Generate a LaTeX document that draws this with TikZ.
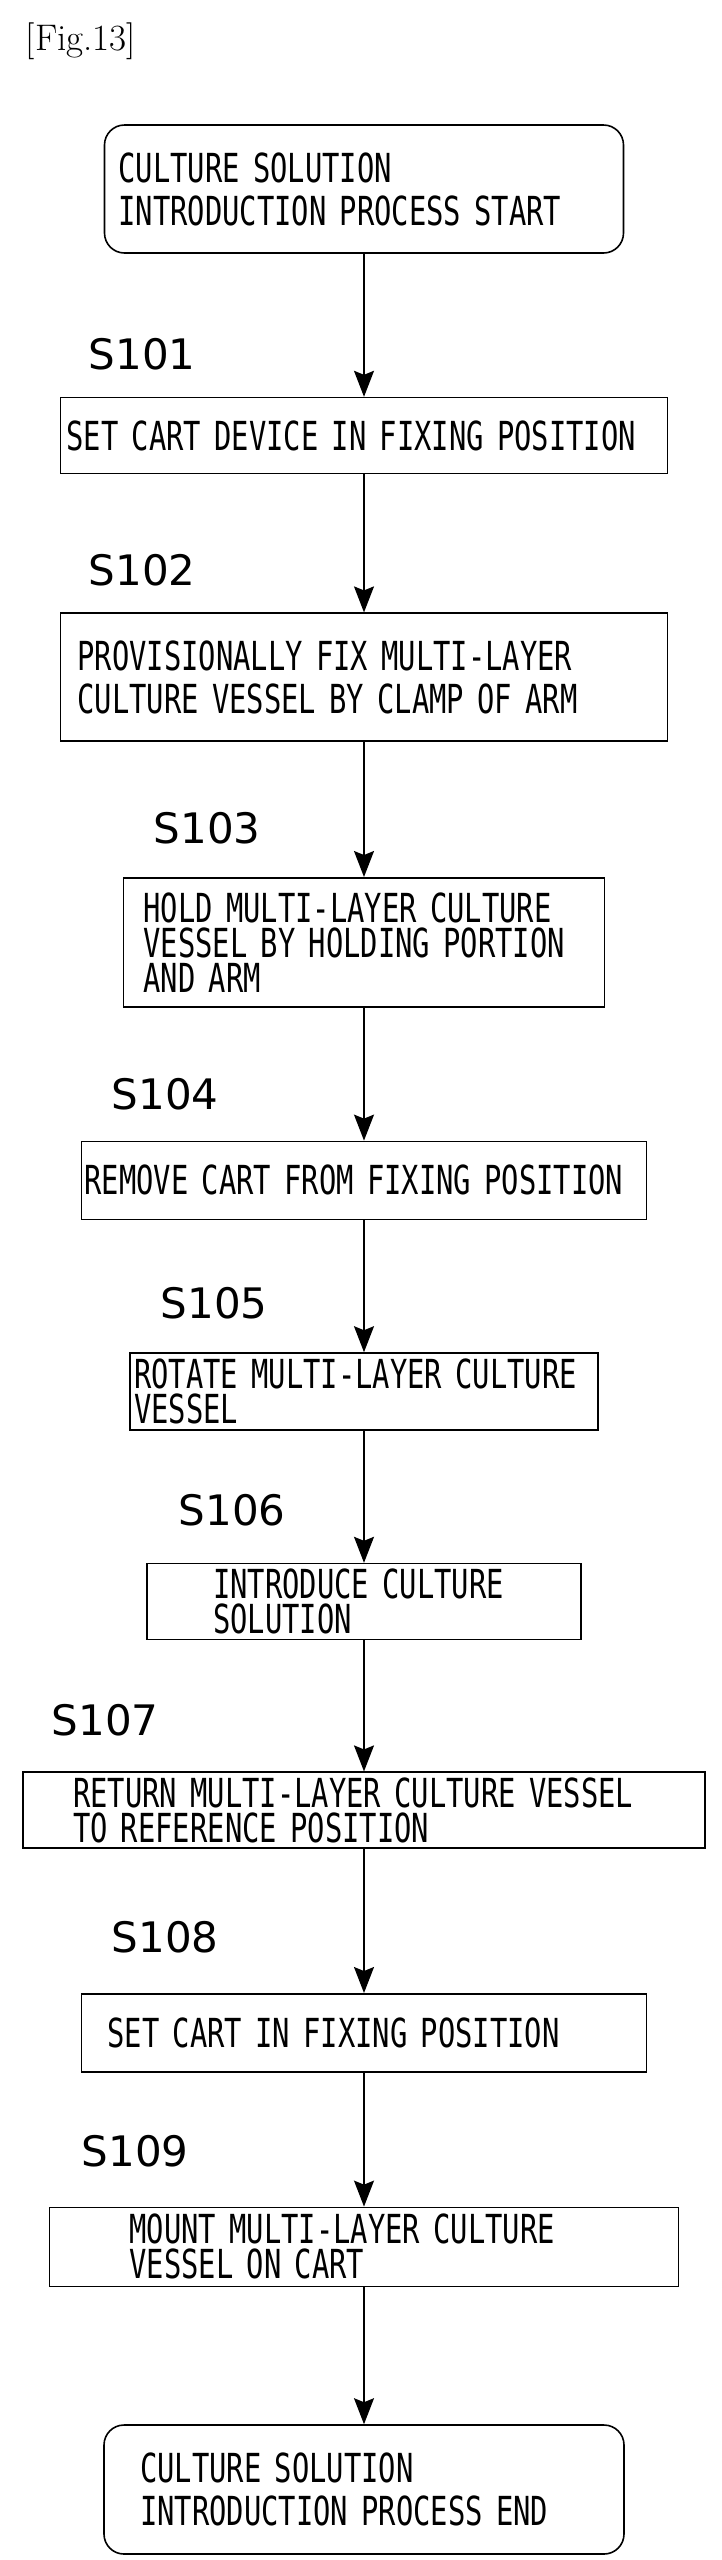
\documentclass[tikz,border=0pt]{standalone}
\usepackage{fontspec}
\newfontfamily\boxfont[FakeStretch=0.72]{DejaVu Sans Mono}
\newfontfamily\labelfont{DejaVu Sans}
\usetikzlibrary{positioning, arrows.meta}
\hyphenpenalty=10000
\exhyphenpenalty=10000

\begin{document}
\begin{tikzpicture}[
    x=1pt, y=-1pt,
    every node/.style={line width=1.6pt},
    step/.style 2 args={rectangle, draw, minimum width=#1, minimum height=#2, align=left, inner ysep=0pt},
    terminal/.style 2 args={step={#1}{#2}, rounded corners=20pt},
    roomy/.style={font=\boxfont\fontsize{40pt}{43pt}\selectfont},
    tight/.style={font=\boxfont\fontsize{40pt}{35pt}\selectfont},
    steplabel/.style={anchor=west, inner sep=0pt, font=\labelfont\fontsize{42pt}{42pt}\selectfont},
    flow/.style={line width=1.6pt, -{Stealth[length=26pt, width=20pt, inset=4pt]}}
]
\useasboundingbox (0,0) rectangle (722,2560);

\node[anchor=west, inner sep=0pt, font=\fontsize{37pt}{37pt}\selectfont] (title) at (25,41) {[Fig.13]};

% Steps
\node[terminal={519pt}{128pt}, roomy, inner xsep=14pt, text width=491pt] (start) at (364,189)
    {CULTURE SOLUTION\\INTRODUCTION PROCESS START};
\node[step={607pt}{76pt}, roomy, inner xsep=6pt, text width=595pt, below=143pt of start] (s101_box)
    {SET CART DEVICE IN FIXING POSITION};
\node[step={607pt}{128pt}, roomy, inner xsep=17pt, text width=573pt, below=138pt of s101_box] (s102_box)
    {PROVISIONALLY FIX MULTI-LAYER\\CULTURE VESSEL BY CLAMP OF ARM};
\node[step={481pt}{129pt}, tight, inner xsep=20pt, text width=441pt, below=135pt of s102_box] (s103_box)
    {HOLD MULTI-LAYER CULTURE\\VESSEL BY HOLDING PORTION\\AND ARM};
\node[step={565pt}{78pt}, roomy, inner xsep=3pt, text width=559pt, below=133pt of s103_box] (s104_box)
    {REMOVE CART FROM FIXING POSITION};
\node[step={468pt}{77pt}, tight, inner xsep=4pt, text width=460pt, below=132pt of s104_box] (s105_box)
    {ROTATE MULTI-LAYER CULTURE\\VESSEL};
\node[step={434pt}{76pt}, tight, inner xsep=66pt, text width=302pt, below=132pt of s105_box] (s106_box)
    {INTRODUCE CULTURE\\SOLUTION};
\node[step={682pt}{76pt}, tight, inner xsep=50pt, text width=582pt, below=131pt of s106_box] (s107_box)
    {RETURN MULTI-LAYER CULTURE VESSEL\\TO REFERENCE POSITION};
\node[step={565pt}{78pt}, roomy, inner xsep=26pt, text width=513pt, below=144pt of s107_box] (s108_box)
    {SET CART IN FIXING POSITION};
\node[step={629pt}{79pt}, tight, inner xsep=80pt, text width=469pt, below=134pt of s108_box] (s109_box)
    {MOUNT MULTI-LAYER CULTURE\\VESSEL ON CART};
\node[terminal={520pt}{129pt}, roomy, inner xsep=36pt, text width=448pt, below=137pt of s109_box] (end)
    {CULTURE SOLUTION\\INTRODUCTION PROCESS END};

% Step numbers
\node[steplabel] (s101) at (88,354) {S101};
\node[steplabel] (s102) at (88,570) {S102};
\node[steplabel] (s103) at (153,828) {S103};
\node[steplabel] (s104) at (111,1094) {S104};
\node[steplabel] (s105) at (160,1303) {S105};
\node[steplabel] (s106) at (178,1510) {S106};
\node[steplabel] (s107) at (51,1720) {S107};
\node[steplabel] (s108) at (111,1937) {S108};
\node[steplabel] (s109) at (81,2151) {S109};

\draw[flow] (start) -- (s101_box);
\draw[flow] (s101_box) -- (s102_box);
\draw[flow] (s102_box) -- (s103_box);
\draw[flow] (s103_box) -- (s104_box);
\draw[flow] (s104_box) -- (s105_box);
\draw[flow] (s105_box) -- (s106_box);
\draw[flow] (s106_box) -- (s107_box);
\draw[flow] (s107_box) -- (s108_box);
\draw[flow] (s108_box) -- (s109_box);
\draw[flow] (s109_box) -- (end);

\end{tikzpicture}
\end{document}
